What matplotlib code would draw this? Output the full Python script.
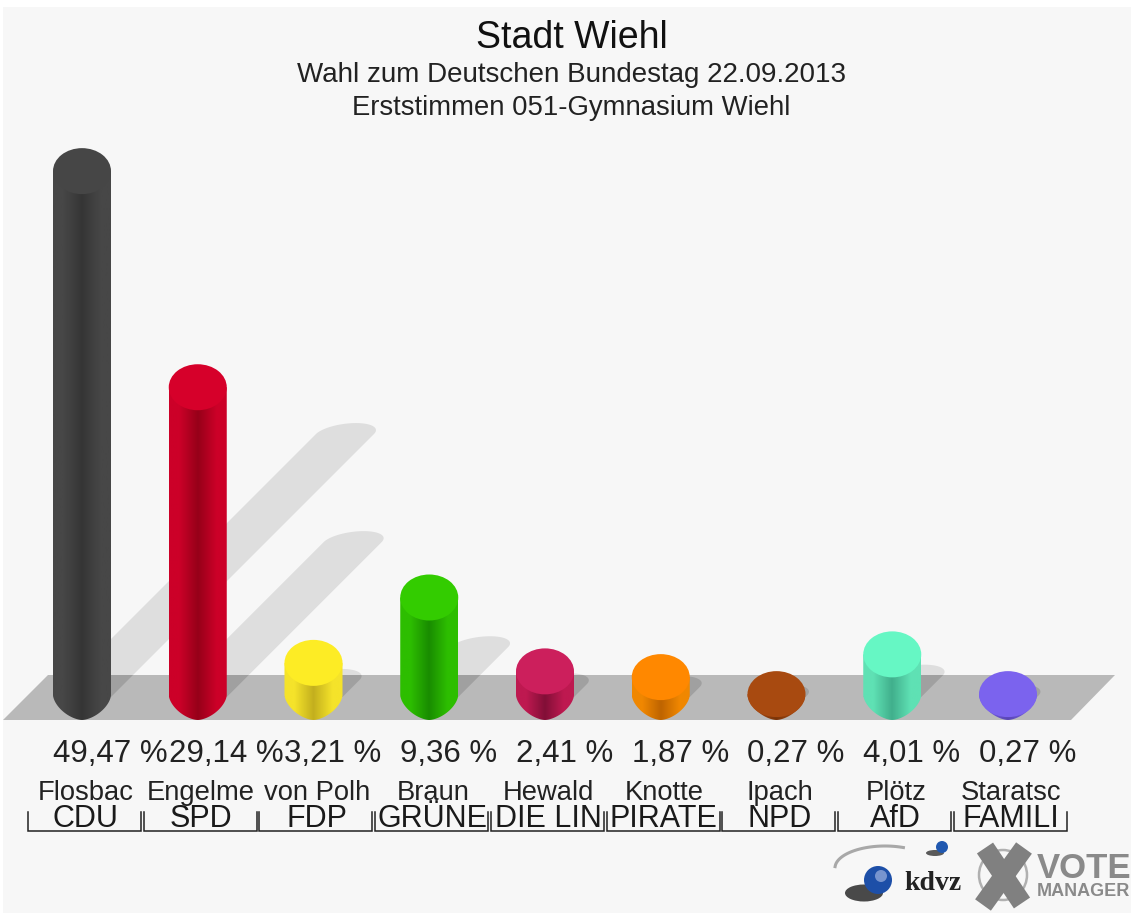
import numpy as np
import matplotlib
matplotlib.use("Agg")
import matplotlib.pyplot as plt
from matplotlib.patches import Polygon, Rectangle, Ellipse, Circle
from matplotlib.transforms import blended_transform_factory

plt.rcParams['font.family'] = ['Liberation Sans', 'DejaVu Sans']

# Chart data
candidates = ["Flosbac", "Engelme", "von Polh", "Braun", "Hewald", "Knotte", "Ipach", "Plötz", "Staratsc"]
parties = ["CDU", "SPD", "FDP", "GRÜNE", "DIE LIN", "PIRATE", "NPD", "AfD", "FAMILI"]
values = [49.47, 29.14, 3.21, 9.36, 2.41, 1.87, 0.27, 4.01, 0.27]
value_labels = ["49,47 %", "29,14 %", "3,21 %", "9,36 %", "2,41 %", "1,87 %", "0,27 %", "4,01 %", "0,27 %"]

# Colours: top of the cylinder, side edge, dark centre seam
top_colors = ["#464646", "#d6002a", "#fdec25", "#33cc00", "#cc1f5c", "#ff8800", "#a84a10", "#66f7c4", "#7b63ee"]
edge_colors = ["#474747", "#cc0028", "#f5e32a", "#2dbe00", "#be1950", "#f08700", "#a04610", "#5fe1b4", "#6e5adc"]
seam_colors = ["#353535", "#960019", "#c3af1e", "#198c00", "#820f37", "#be6400", "#7a3408", "#41af8c", "#5a46b4"]

W, H = 1131, 913
PX_X = 115.75   # pixels per category
PX_Y = 10.63    # pixels per percent
X0, Y0 = 82, 697
RX, RY = 29, 23
SH_RY = 11

fig = plt.figure(figsize=(W / 100, H / 100), dpi=100, facecolor="white")

# layout axes in pixels, chart axes in values on top of it
bg = fig.add_axes([0, 0, 1, 1])
bg.set_xlim(0, W)
bg.set_ylim(H, 0)
bg.axis("off")

ax = fig.add_axes([0, 0, 1, 1], facecolor="none")
ax.axis("off")
px = bg.transData
xpx = blended_transform_factory(ax.transData, bg.transData)

bg.add_patch(Rectangle((3, 7), W - 3, H - 7, color="#f7f7f7", lw=0))


def bullet_tip(cx, rx):
    # pointed lower end of a cylinder, right side round to the left side
    t = np.linspace(0, np.pi, 60)
    c = np.cos(t)
    xs = cx + rx * np.sign(c) * np.abs(c) ** (2 / 1.65)
    ys = (2 - 25 * np.sin(t) ** (2 / 1.65)) / PX_Y
    return np.column_stack([xs, ys])


def shadow_points(i, v):
    # far end is an ellipse sheared 45 degrees, near end hidden behind the bar
    dy = v / 2
    dx = dy * PX_Y / PX_X
    rx = RX / PX_X
    ry = SH_RY / PX_Y
    t = np.linspace(0, np.pi, 60)
    top = np.column_stack([i + dx + rx * np.cos(t) + SH_RY * np.sin(t) / PX_X, dy + ry * np.sin(t)])
    return np.vstack([top, [(i - rx, 0), (i + rx, 0)]])


# shadows off the floor
for i, v in enumerate(values):
    ax.add_patch(Polygon(shadow_points(i, v), closed=True, color="#dedede", lw=0, zorder=1))

floor = Polygon([(3, 720), (48, 675), (1115, 675), (1071, 720)], closed=True,
                color="#b9b9b9", lw=0, transform=px, zorder=2)
ax.add_patch(floor)

# shadows on the floor
for i, v in enumerate(values):
    p = Polygon(shadow_points(i, v), closed=True, color="#a0a0a0", lw=0, zorder=3)
    ax.add_patch(p)
    p.set_clip_path(floor)

# cylinders
rx = RX / PX_X
ry = RY / PX_Y
for i, v in enumerate(values):
    edge = np.array(matplotlib.colors.to_rgb(edge_colors[i]))
    seam = np.array(matplotlib.colors.to_rgb(seam_colors[i]))
    u = np.abs(np.linspace(-1, 1, 90))
    f = np.clip(u / 0.65, 0, 1)[:, None]
    grad = (seam + (edge - seam) * f)[None, :, :]

    body = Polygon(np.vstack([[(i + rx, v)], bullet_tip(i, rx), [(i - rx, v)]]), closed=True,
                   facecolor="none", lw=0, zorder=4)
    ax.add_patch(body)
    im = ax.imshow(grad, extent=(i - rx, i + rx, -2.2, v), aspect="auto",
                   interpolation="bilinear", zorder=4)
    im.set_clip_path(body)
    ax.add_patch(Ellipse((i, v), 2 * rx, 2 * ry, color=top_colors[i], lw=0, zorder=5))

ax.set_xlim(-X0 / PX_X, (W - X0) / PX_X)
ax.set_ylim(-(H - Y0) / PX_Y, Y0 / PX_Y)

# title block
bg.text(571.5, 48, "Stadt Wiehl", fontsize=27, ha="center", va="baseline", color="#111111")
bg.text(571.5, 82, "Wahl zum Deutschen Bundestag 22.09.2013", fontsize=20, ha="center", va="baseline", color="#222222")
bg.text(571.5, 115, "Erststimmen 051-Gymnasium Wiehl", fontsize=19.8, ha="center", va="baseline", color="#222222")

# labels under the bars
for i in range(len(values)):
    ax.text(i - RX / PX_X, 762, value_labels[i], fontsize=22.5, ha="left", va="baseline",
            color="#222222", transform=xpx, zorder=6)
    ax.text(i + 3.5 / PX_X, 800, candidates[i], fontsize=19.7, ha="center", va="baseline",
            color="#222222", transform=xpx, zorder=6)
    ax.text(i + 3 / PX_X, 827, parties[i], fontsize=22, ha="center", va="baseline",
            color="#1a1a1a", transform=xpx, zorder=6)
    xl = i + (2.5 - 56.5) / PX_X
    xr = i + (2.5 + 56.5) / PX_X
    ax.plot([xl, xl, xr, xr], [812, 831, 831, 812], color="#222222", lw=1.1,
            transform=xpx, solid_joinstyle="miter", zorder=6)

# kdvz logo
t = np.linspace(np.pi * 1.02, np.pi * 1.62, 40)
bg.plot(885 + 50 * np.cos(t), 868 + 22 * np.sin(t), color="#a8a8a8", lw=2.2)
bg.add_patch(Ellipse((864, 893), 38, 17, color="#2a2a2a", lw=0, alpha=0.85))
bg.add_patch(Circle((878, 880), 14, color="#1d4fa8", lw=0))
bg.add_patch(Circle((881, 876), 6, color="#8fa6d8", lw=0, alpha=0.8))
bg.add_patch(Ellipse((935, 853), 18, 6, color="#333333", lw=0, alpha=0.8))
bg.add_patch(Circle((942, 847), 6, color="#2058b0", lw=0))
bg.text(904, 890, "kdvz", fontsize=20, fontweight="bold", family=["Liberation Serif"], color="#222222",
        ha="left", va="baseline")

# vote manager logo
bg.add_patch(Ellipse((1003, 875), 48, 50, fill=False, ec="#b0b0b0", lw=1.8))
bg.plot([985, 1022], [848, 903], color="#808080", lw=14, solid_capstyle="butt")
bg.plot([1024, 983], [848, 905], color="#808080", lw=14, solid_capstyle="butt")
bg.text(1037, 878, "VOTE", fontsize=25, fontweight="bold", color="#8a8a8a", ha="left", va="baseline")
bg.text(1037, 896, "MANAGER", fontsize=13, fontweight="bold", color="#8a8a8a", ha="left", va="baseline")

fig.savefig("out.png", dpi=100)
